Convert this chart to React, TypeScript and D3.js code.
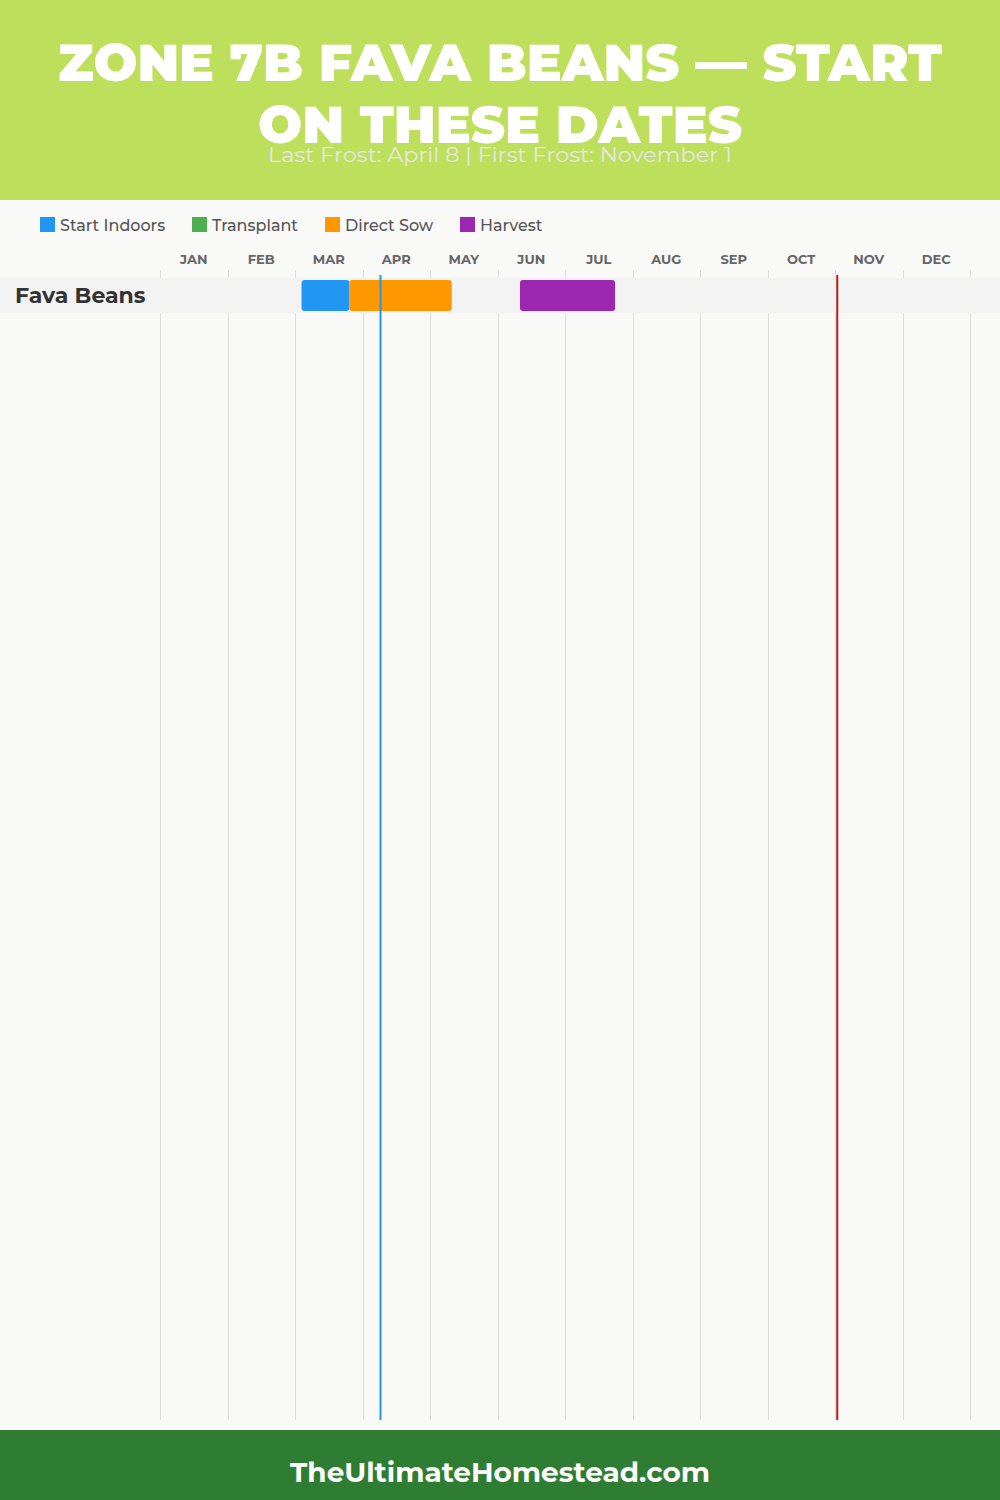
import React from "react";
import * as d3 from "d3";

const TITLE_LINES = ["ZONE 7B FAVA BEANS — START", "ON THESE DATES"];
const SUBTITLE = "Last Frost: April 8 | First Frost: November 1";
const FOOTER = "TheUltimateHomestead.com";

const MONTHS = ["JAN", "FEB", "MAR", "APR", "MAY", "JUN", "JUL", "AUG", "SEP", "OCT", "NOV", "DEC"];
const DAYS_IN_MONTH = [31, 28, 31, 30, 31, 30, 31, 31, 30, 31, 30, 31];

const PHASES = ["Start Indoors", "Transplant", "Direct Sow", "Harvest"];
const PHASE_COLORS = ["#2196f3", "#4caf50", "#ff9800", "#9c27b0"];

const CROPS = ["Fava Beans"];

// [crop, phase, startMonth, startDay, endMonth, endDay]
const BARS: [string, string, number, number, number, number][] = [
  ["Fava Beans", "Start Indoors", 3, 3, 3, 25],
  ["Fava Beans", "Direct Sow", 3, 25, 5, 10],
  ["Fava Beans", "Harvest", 6, 10, 7, 23],
];

const LAST_FROST: [number, number] = [4, 8];
const FIRST_FROST: [number, number] = [11, 1];

const FONT = "Montserrat, 'Inter', 'Open Sans', 'DejaVu Sans', sans-serif";

function monthPos(m: number, d: number) {
  return m - 1 + d / DAYS_IN_MONTH[m - 1];
}

export default function App() {
  const W = 1000;
  const H = 1500;
  const x = d3.scaleLinear().domain([0, 12]).range([160, 970]);
  const y = d3.scaleBand<string>().domain(CROPS).range([278, 278 + 35 * CROPS.length]);
  const phaseColor = d3.scaleOrdinal<string, string>().domain(PHASES).range(PHASE_COLORS);
  const legendX = [40, 192, 325, 460];
  const gridTop = 270;
  const gridBottom = 1420;
  const frostX1 = x(monthPos(LAST_FROST[0], LAST_FROST[1]));
  const frostX2 = x(monthPos(FIRST_FROST[0], FIRST_FROST[1]));

  return (
    <svg
      width={W}
      height={H}
      viewBox={`0 0 ${W} ${H}`}
      style={{ position: "absolute", left: 0, top: 0, display: "block" }}
      fontFamily={FONT}
    >
      <rect x={0} y={0} width={W} height={H} fill="#f9f9f8" />
      {/* header */}
      <rect x={0} y={0} width={W} height={200} fill="#bedf5b" />
      <text
        x={500}
        y={81}
        textAnchor="middle"
        fill="#ffffff"
        fontSize={52}
        fontWeight={900}
        textLength={884}
        lengthAdjust="spacingAndGlyphs"
      >
        {TITLE_LINES[0]}
      </text>
      <text
        x={500}
        y={143}
        textAnchor="middle"
        fill="#ffffff"
        fontSize={52}
        fontWeight={900}
        textLength={484}
        lengthAdjust="spacingAndGlyphs"
      >
        {TITLE_LINES[1]}
      </text>
      <text
        x={500}
        y={162}
        textAnchor="middle"
        fill="#e6e6e6"
        fontSize={21}
        fontWeight={400}
        textLength={464}
        lengthAdjust="spacingAndGlyphs"
      >
        {SUBTITLE}
      </text>

      {/* legend */}
      {PHASES.map((p, i) => (
        <g key={p} transform={`translate(${legendX[i]},217)`}>
          <rect width={15} height={15} fill={phaseColor(p)} />
          <text x={20} y={13.5} fontSize={16} fontWeight={500} fill="#555555">
            {p}
          </text>
        </g>
      ))}

      {/* month labels */}
      {MONTHS.map((m, i) => (
        <text
          key={m}
          x={x(i + 0.5)}
          y={264}
          textAnchor="middle"
          fontSize={13}
          fontWeight={700}
          fill="#666666"
        >
          {m}
        </text>
      ))}

      {/* grid */}
      {d3.range(13).map((i) => (
        <line
          key={i}
          x1={Math.round(x(i)) + 0.5}
          x2={Math.round(x(i)) + 0.5}
          y1={gridTop}
          y2={gridBottom}
          stroke="#dddddd"
          strokeWidth={1}
        />
      ))}

      {/* rows */}
      {CROPS.map((c) => (
        <g key={c}>
          <rect x={0} y={y(c)} width={W} height={y.bandwidth()} fill="#f3f3f3" />
          <text x={15} y={(y(c) as number) + 25} fontSize={22} fontWeight={700} fill="#333333">
            {c}
          </text>
        </g>
      ))}

      {/* bars */}
      {BARS.map(([crop, phase, sm, sd, em, ed]) => {
        const x0 = x(monthPos(sm, sd));
        const x1 = x(monthPos(em, ed));
        return (
          <rect
            key={crop + phase}
            x={x0}
            y={(y(crop) as number) + 2}
            width={x1 - x0}
            height={y.bandwidth() - 4}
            rx={3}
            fill={phaseColor(phase)}
          />
        );
      })}

      {/* frost lines */}
      <line x1={frostX1} x2={frostX1} y1={275} y2={gridBottom} stroke="#2196f3" strokeWidth={2} />
      <line x1={frostX2} x2={frostX2} y1={275} y2={gridBottom} stroke="#b71c1c" strokeWidth={2} />

      {/* footer */}
      <rect x={0} y={1430} width={W} height={70} fill="#2e7d32" />
      <text
        x={500}
        y={1482}
        textAnchor="middle"
        fill="#ffffff"
        fontSize={28}
        fontWeight={700}
        textLength={420}
        lengthAdjust="spacingAndGlyphs"
      >
        {FOOTER}
      </text>
    </svg>
  );
}
